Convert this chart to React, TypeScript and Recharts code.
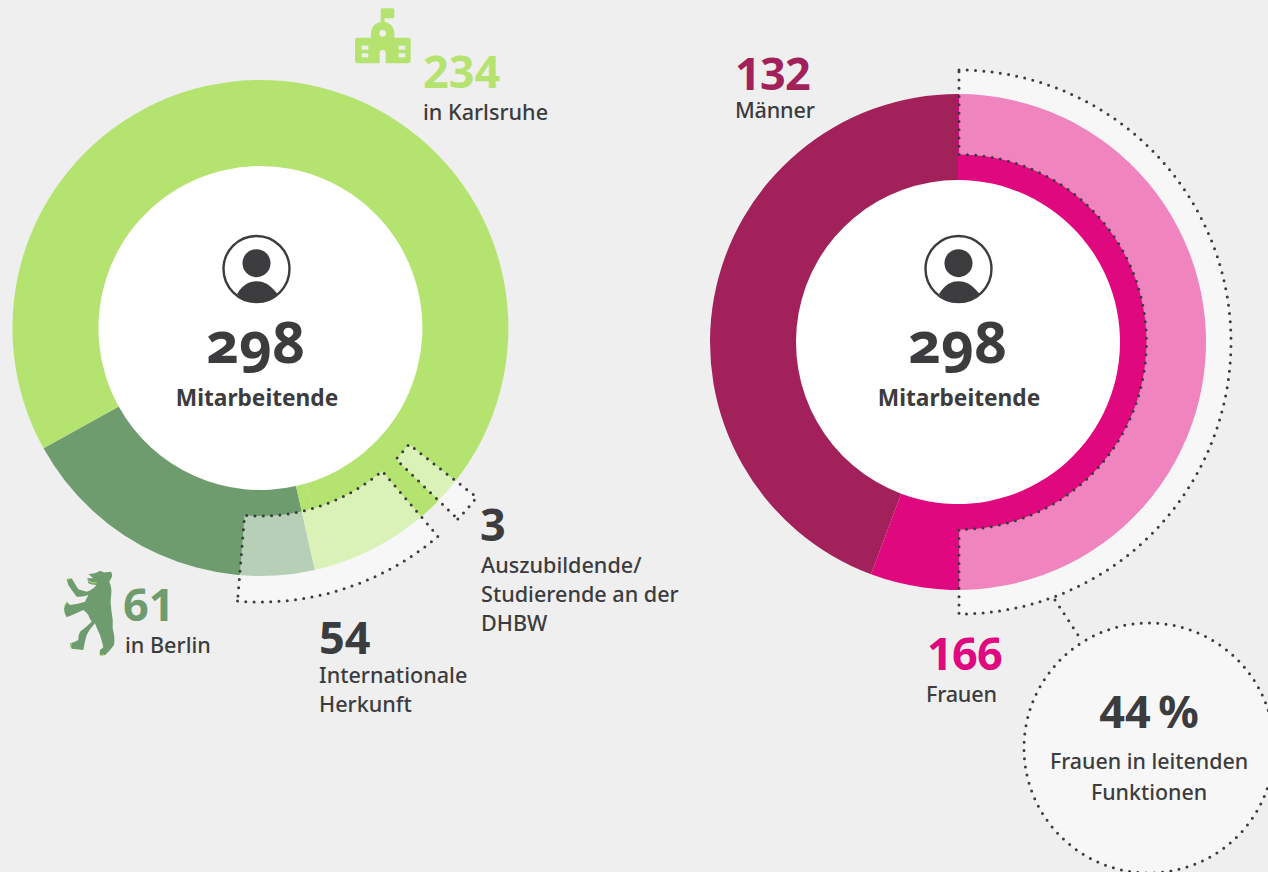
import React from "react";
import { PieChart, Pie, Cell } from "recharts";

const locationNames = ["Berlin", "Karlsruhe", "Auszubildende"];
const locationValues = [61, 234, 3];
const genderNames = ["Männer", "Frauen"];
const genderValues = [132, 166];
const internationalValue = [54];
const traineeValue = [3];
const womenHighlightValue = [166];

const toRows = (names: string[], values: number[]) => values.map((value, i) => ({ name: names[i] ?? "", value }));

const LIME = "#b5e370";
const FOREST = "#6f9c6f";
const WINE = "#a3215a";
const MAGENTA = "#e0087f";
const INK = "#3c3c3e";
const BG = "#efefef";
const FONT = "'Noto Sans', sans-serif";

const dotted = {
  stroke: "#3c3c3e",
  strokeWidth: 3,
  strokeLinecap: "round" as const,
  strokeDasharray: "0 8.3",
};

const T = (p: any) => {
  const { x, y, size = 21.6, weight = 500, fill = INK, anchor = "start", children, ls, feat } = p;
  return (
    <text
      x={x}
      y={y}
      fontFamily={FONT}
      fontSize={size}
      fontWeight={weight}
      fill={fill}
      textAnchor={anchor}
      letterSpacing={ls}
      style={feat ? { fontFeatureSettings: feat } : undefined}
    >
      {children}
    </text>
  );
};

const Person = ({ x, y }: { x: number; y: number }) => (
  <g transform={`translate(${x},${y})`}>
    <circle cx={0} cy={0} r={33} fill="#fff" stroke={INK} strokeWidth={2.4} />
    <circle cx={0} cy={-5.8} r={14} fill={INK} />
    <path d="M-19.5,25 C-13,15 -7,12.3 0,12.3 C7,12.3 13,15 21,25 C15,31 8,33 0,33 C-8,33 -14,31 -19.5,25 Z" fill={INK} />
  </g>
);

const Center = ({ x }: { x: number }) => (
  <g>
    <Person x={x + 0.5} y={269} />
    <T x={x} y={363} size={57} weight={700} anchor="middle" feat="'onum' 1">298</T>
    <T x={x + 1} y={406} size={22.7} weight={700} anchor="middle">Mitarbeitende</T>
  </g>
);

const School = () => (
  <g transform="translate(340,0) scale(0.3333)" fill={LIME}>
    <path d="M122,70 V30 Q122,25 127,25 H158 Q163,25 163,30 V50 Q163,55 158,55 H134 V70 Z" />
    <path d="M52,113 H93 V100 A35,35 0 0 1 163,100 V113 H205 Q212,113 212,120 V183 Q212,190 205,190 H137 V160 Q137,150 128,150 Q119,150 119,160 V190 H52 Q45,190 45,183 V120 Q45,113 52,113 Z" />
    <circle cx={128} cy={100} r={10} fill={BG} />
    <rect x={65} y={137} width={20} height={12} fill={BG} />
    <rect x={65} y={160} width={20} height={12} fill={BG} />
    <rect x={176} y={137} width={20} height={12} fill={BG} />
    <rect x={176} y={160} width={20} height={12} fill={BG} />
  </g>
);

const Bear = () => (
  <g transform="translate(50,560) scale(0.3333)">
    <path
      d="M115,42 Q135,42 150,32 Q160,38 168,37 L183,35 Q188,42 186,50 L178,65 Q186,85 184,100 Q180,125 184,150 Q190,180 188,205 Q196,235 192,255 Q180,272 166,285 L150,287 Q148,276 150,270 L160,262 Q155,240 150,225 Q140,205 135,190 Q118,208 110,225 Q104,245 100,270 L65,266 L60,250 Q72,248 85,240 Q85,225 90,215 Q110,200 125,185 Q118,175 115,165 Q108,155 100,150 Q75,162 50,172 Q42,160 42,145 L50,125 L60,135 Q85,132 105,125 Q110,115 115,105 Q100,112 80,110 Q68,95 55,75 L50,58 L65,55 Q75,72 85,88 Q98,92 110,95 Q122,92 130,85 L140,75 Q125,75 115,70 L112,55 L130,55 Z"
      fill={FOREST}
    />
    <path d="M50,58 L65,55 M42,138 L52,124 M60,262 L65,250 M150,287 L162,284 M114,62 Q125,72 140,68" fill="none" stroke={LIME} strokeWidth={3} />
  </g>
);

export default function App() {
  const common = { dataKey: "value", isAnimationActive: false, stroke: "none" };
  return (
    <div style={{ position: "fixed", left: 0, top: 0, width: 1268, height: 872, background: BG, overflow: "hidden" }}>
      <PieChart width={1268} height={872} margin={{ top: 0, left: 0, right: 0, bottom: 0 }}>
        <circle cx={260} cy={328} r={163} fill="#fff" />
        <circle cx={958} cy={342} r={163} fill="#fff" />

        {/* left ring */}
        <Pie {...common} data={toRows(locationNames, locationValues)} cx={260.4} cy={328} innerRadius={162} outerRadius={248} startAngle={282.7} endAngle={-77.3}>
          <Cell fill={FOREST} />
          <Cell fill={LIME} />
          <Cell fill={LIME} />
        </Pie>
        <Pie {...common} data={toRows(["Internationale Herkunft"], internationalValue)} cx={260} cy={328} innerRadius={188} outerRadius={274} startAngle={265.3} endAngle={310.5}>
          <Cell fill="#fff" fillOpacity={0.5} {...dotted} />
        </Pie>
        <Pie {...common} data={toRows(["Auszubildende"], traineeValue)} cx={260} cy={328} innerRadius={189} outerRadius={275} startAngle={316} endAngle={322}>
          <Cell fill="#fff" fillOpacity={0.5} {...dotted} />
        </Pie>

        {/* right ring */}
        <Pie {...common} data={toRows(genderNames, genderValues)} cx={958} cy={342} innerRadius={162} outerRadius={248} startAngle={90} endAngle={450}>
          <Cell fill={WINE} />
          <Cell fill={MAGENTA} />
        </Pie>
        <Pie {...common} data={toRows(["Frauen"], womenHighlightValue)} cx={959} cy={342} innerRadius={187.5} outerRadius={272} startAngle={90} endAngle={-90}>
          <Cell fill="#fff" fillOpacity={0.5} {...dotted} />
        </Pie>

        {/* callout */}
        <line x1={1055} y1={600} x2={1082} y2={641} {...dotted} />
        <circle cx={1149} cy={748} r={125} fill="#f7f7f7" {...dotted} />

        <Center x={256} />
        <Center x={958} />
        <School />
        <Bear />

        <T x={423} y={88} size={45} weight={700} fill={LIME}>234</T>
        <T x={423} y={120}>in Karlsruhe</T>

        <T x={123} y={621} size={45} weight={700} fill={FOREST}>61</T>
        <T x={125} y={653}>in Berlin</T>

        <T x={319} y={654} size={45} weight={700}>54</T>
        <T x={319} y={683}>Internationale</T>
        <T x={319} y={712}>Herkunft</T>

        <T x={480} y={541} size={45} weight={700}>3</T>
        <T x={481} y={573}>Auszubildende/</T>
        <T x={481} y={602}>Studierende an der</T>
        <T x={481} y={631}>DHBW</T>

        <T x={735} y={90} size={45} weight={700} fill={WINE} ls={-0.7}>132</T>
        <T x={735} y={118} ls={-0.2}>Männer</T>

        <T x={927} y={670} size={45} weight={700} fill={MAGENTA} ls={-0.7}>166</T>
        <T x={926} y={702} ls={-0.2}>Frauen</T>

        <T x={1149} y={728} size={45} weight={700} anchor="middle">{"44\u2009%"}</T>
        <T x={1149} y={769} size={21.4} anchor="middle">Frauen in leitenden</T>
        <T x={1149} y={800} size={21.4} anchor="middle">Funktionen</T>
      </PieChart>
    </div>
  );
}
